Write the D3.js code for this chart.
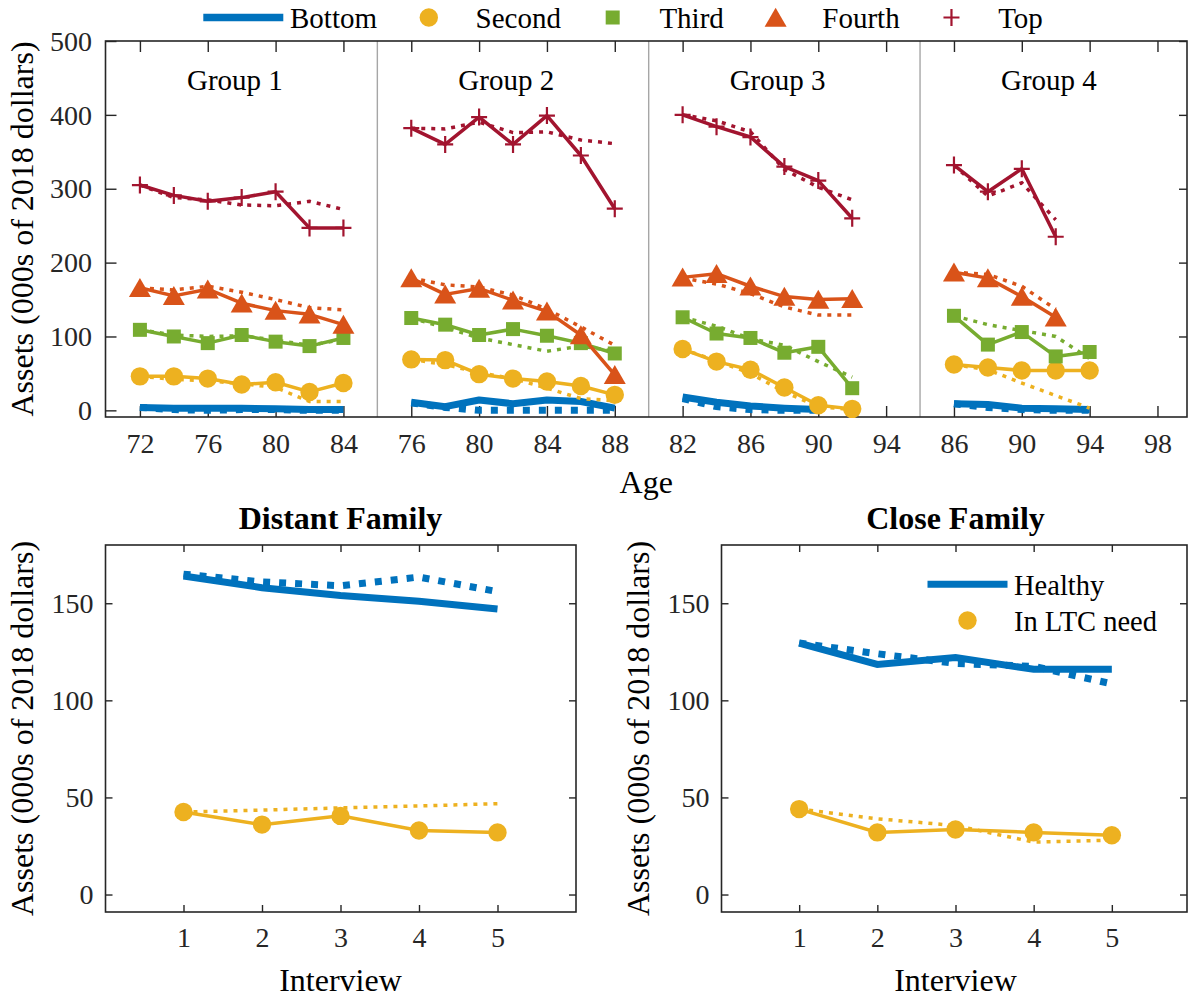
<!DOCTYPE html>
<html>
<head>
<meta charset="utf-8">
<script src="https://cdn.jsdelivr.net/npm/d3@7"></script>
<style>
  html, body { margin: 0; padding: 0; background: #fff; }
  svg { display: block; font-family: "Liberation Serif", "Times New Roman", serif; }
</style>
</head>
<body>
<svg id="chart" width="1188" height="997"></svg>
<script>
// ---------------- data ----------------
const quintiles = ["Bottom", "Second", "Third", "Fourth", "Top"];
const groupNames = ["Group 1", "Group 2", "Group 3", "Group 4"];
const groupStartAge = [72, 76, 82, 86];
const groupTickAges = [[72, 76, 80, 84], [76, 80, 84, 88], [82, 86, 90, 94], [86, 90, 94, 98]];
const ageStep = 2;

// observed paths (solid) and model paths (dotted); one list per group, from the group's first age
const bottomObs = [[4, 3, 3, 3, 2, 1, 1], [11, 5, 14, 9, 14, 12, 3], [18, 11, 6, 3, 1], [9, 8, 3, 2, 1]];
const bottomSim = [[4, 1, 0, 1, 1, 0, 0], [10, 4, 0, 0, 0, 0, 0], [16, 5, 1, 0, 0], [9, 4, 1, 0, 0]];
const secondObs = [[46, 46, 43, 35, 38, 25, 37], [69, 68, 49, 43, 39, 33, 21], [83, 66, 55, 31, 7, 2], [62, 58, 54, 54, 54]];
const secondSim = [[46, 42, 40, 36, 31, 12, 12], [69, 62, 51, 43, 30, 16, 13], [83, 67, 50, 25, 5, 1], [62, 55, 37, 20, 3]];
const thirdObs = [[109, 100, 91, 102, 93, 87, 98], [125, 116, 102, 110, 101, 91, 77], [126, 104, 98, 78, 86, 30], [128, 89, 106, 73, 79]];
const thirdSim = [[109, 102, 100, 101, 95, 88, 96], [125, 112, 98, 89, 80, 87, 80], [126, 114, 97, 88, 66, 45], [128, 116, 108, 100, 70]];
const fourthObs = [[166, 155, 164, 145, 135, 130, 116], [179, 157, 165, 149, 134, 102, 48], [180, 185, 168, 154, 150, 151], [187, 179, 154, 126]];
const fourthSim = [[166, 163, 168, 160, 150, 139, 136], [179, 170, 167, 156, 137, 113, 88], [179, 171, 158, 140, 129, 129], [187, 184, 168, 137]];
const topObs = [[305, 291, 283, 288, 296, 247, 247], [382, 360, 397, 360, 399, 345, 273], [400, 384, 370, 330, 311, 260], [332, 296, 327, 235]];
const topSim = [[305, 288, 285, 278, 277, 283, 272], [382, 381, 390, 376, 377, 366, 361], [400, 392, 377, 326, 302, 285], [332, 290, 308, 258]];

const topYTicks = [0, 100, 200, 300, 400, 500];

// family panels
const interviews = [1, 2, 3, 4, 5];
const distantHealthyObs = [164, 158, 154, 151, 147];
const distantHealthySim = [165, 161, 159, 163.5, 156];
const distantLtcObs = [42.5, 36, 40.5, 33, 32];
const distantLtcSim = [42.5, 43.5, 44.6, 45.6, 46.8];
const closeHealthyObs = [129.5, 118.5, 122, 116, 116];
const closeHealthySim = [129.5, 124, 119, 117.5, 108.5];
const closeLtcObs = [44, 32, 33.5, 32, 30.5];
const closeLtcSim = [44, 39, 35.5, 27, 28];
const familyYTicks = [0, 50, 100, 150];
const familyLegend = ["Healthy", "In LTC need"];

// ---------------- styles ----------------
const color = { Bottom: "#0072BD", Second: "#EDB120", Third: "#77AC30", Fourth: "#D95319", Top: "#A2142F" };
const markerOf = { Bottom: null, Second: "circle", Third: "square", Fourth: "triangle", Top: "plus" };
const obsBySeries = { Bottom: bottomObs, Second: secondObs, Third: thirdObs, Fourth: fourthObs, Top: topObs };
const simBySeries = { Bottom: bottomSim, Second: secondSim, Third: thirdSim, Fourth: fourthSim, Top: topSim };

const AXIS = "#262626";
const TICK_FONT = 28;
const LABEL_FONT = 32;

const svg = d3.select("#chart");

function drawMarker(sel, type, cx, cy, c) {
  if (type === "circle") {
    sel.append("circle").attr("cx", cx).attr("cy", cy).attr("r", 9.2).attr("fill", c);
  } else if (type === "square") {
    sel.append("rect").attr("x", cx - 7).attr("y", cy - 7).attr("width", 14).attr("height", 14).attr("fill", c);
  } else if (type === "triangle") {
    sel.append("path").attr("d", `M${cx},${cy - 9.8}L${cx + 11},${cy + 9.2}L${cx - 11},${cy + 9.2}Z`).attr("fill", c);
  } else if (type === "plus") {
    sel.append("path").attr("d", `M${cx - 8},${cy}H${cx + 8}M${cx},${cy - 8.5}V${cy + 8.5}`)
      .attr("stroke", c).attr("stroke-width", 2.2).attr("fill", "none");
  }
}

function styleAxis(g, fontSize) {
  g.select(".domain").remove();
  g.selectAll(".tick line").attr("stroke", AXIS).attr("stroke-width", 1.4);
  g.selectAll(".tick text").attr("fill", AXIS).attr("font-size", fontSize)
    .attr("font-family", '"Liberation Serif","Times New Roman",serif');
}

// ---------------- top panel: assets by age ----------------
const T = { left: 105.5, right: 1187, top: 41, bottom: 417 };
const groupSpan = 16;
const xTop = d3.scaleLinear().domain([-2, 61.8]).range([106, 1188]);
const yTop = d3.scaleLinear().domain([-9, 500]).range([T.bottom, T.top]);
const posOf = (g, age) => age - groupStartAge[g] + groupSpan * g;

const topG = svg.append("g");

// group separators
topG.selectAll("line.sep").data([1, 2, 3]).join("line")
  .attr("x1", g => xTop(groupSpan * g - 2)).attr("x2", g => xTop(groupSpan * g - 2))
  .attr("y1", T.top).attr("y2", T.bottom)
  .attr("stroke", "#a6a6a6").attr("stroke-width", 1.4);

// axes
const tickPos = [], tickLab = [];
groupTickAges.forEach((ages, g) => ages.forEach(a => { tickPos.push(posOf(g, a)); tickLab.push(String(a)); }));

topG.append("g").attr("transform", `translate(0,${T.bottom})`)
  .call(d3.axisBottom(xTop).tickValues(tickPos).tickFormat((d, i) => tickLab[i]).tickSizeInner(-11).tickSizeOuter(0).tickPadding(16))
  .call(g => styleAxis(g, TICK_FONT));
topG.append("g").attr("transform", `translate(0,${T.top})`)
  .call(d3.axisTop(xTop).tickValues(tickPos).tickFormat("").tickSizeInner(-11).tickSizeOuter(0))
  .call(g => styleAxis(g, TICK_FONT));
topG.append("g").attr("transform", `translate(${T.left},0)`)
  .call(d3.axisLeft(yTop).tickValues(topYTicks).tickSizeInner(-11).tickSizeOuter(0).tickPadding(13.5))
  .call(g => styleAxis(g, TICK_FONT))
  .call(g => g.selectAll(".tick text").attr("dy", "0.33em"));
topG.append("g").attr("transform", `translate(${T.right},0)`)
  .call(d3.axisRight(yTop).tickValues(topYTicks.slice(1)).tickFormat("").tickSizeInner(-8).tickSizeOuter(0))
  .call(g => styleAxis(g, TICK_FONT));

topG.append("rect").attr("x", T.left).attr("y", T.top)
  .attr("width", T.right - T.left).attr("height", T.bottom - T.top)
  .attr("fill", "none").attr("stroke", AXIS).attr("stroke-width", 1.6);

// group titles
topG.selectAll("text.grp").data(groupNames).join("text")
  .attr("x", (d, g) => xTop(groupSpan * g + 5.6)).attr("y", 90)
  .attr("text-anchor", "middle").attr("font-size", 29).attr("fill", "#000")
  .text(d => d);

// series
const lineTop = d3.line().x(d => xTop(d.p)).y(d => yTop(d.v));
const seriesPts = (vals, g) => vals.map((v, i) => ({ p: posOf(g, groupStartAge[g] + ageStep * i), v }));

quintiles.forEach(q => {
  const c = color[q];
  const thick = q === "Bottom";
  const lw = thick ? 7 : 3.5;
  groupNames.forEach((_, g) => {
    const obs = seriesPts(obsBySeries[q][g], g);
    const sim = seriesPts(simBySeries[q][g], g);
    const sg = topG.append("g");
    sg.append("path").attr("d", lineTop(obs)).attr("fill", "none").attr("stroke", c)
      .attr("stroke-width", lw).attr("stroke-linejoin", "round");
    sg.append("path").attr("d", lineTop(sim)).attr("fill", "none").attr("stroke", c)
      .attr("stroke-width", lw).attr("stroke-dasharray", thick ? "7,9" : "4,6");
    if (markerOf[q]) obs.forEach(d => drawMarker(sg, markerOf[q], xTop(d.p), yTop(d.v), c));
  });
});

// y label and x label
svg.append("text").attr("transform", `translate(33,${(T.top + T.bottom) / 2}) rotate(-90)`)
  .attr("text-anchor", "middle").attr("font-size", LABEL_FONT).attr("fill", "#000")
  .text("Assets (000s of 2018 dollars)");
svg.append("text").attr("x", (T.left + T.right) / 2).attr("y", 493)
  .attr("text-anchor", "middle").attr("font-size", LABEL_FONT).attr("fill", "#000").text("Age");

// legend across the top
(function () {
  const lg = svg.append("g");
  const cy = 17.5;
  let tx = 290;
  quintiles.forEach(q => {
    const cx = tx - 46.7;
    if (q === "Bottom") {
      lg.append("line").attr("x1", cx - 40).attr("x2", cx + 40).attr("y1", cy).attr("y2", cy)
        .attr("stroke", color[q]).attr("stroke-width", 7.5);
    } else {
      drawMarker(lg, markerOf[q], cx, cy, color[q]);
    }
    const t = lg.append("text").attr("x", tx).attr("y", cy).attr("dy", "0.37em")
      .attr("font-size", 29).attr("fill", "#000").text(q);
    tx += t.node().getComputedTextLength() + 98.5;
  });
})();

// ---------------- family panels ----------------
function familyPanel(left, right, title, hObs, hSim, lObs, lSim, withLegend) {
  const P = { left, right, top: 545, bottom: 912 };
  const x = d3.scaleLinear().domain([0, 6]).range([left, right]);
  const y = d3.scaleLinear().domain([-9, 180]).range([P.bottom, P.top]);
  const g = svg.append("g");

  g.append("g").attr("transform", `translate(0,${P.bottom})`)
    .call(d3.axisBottom(x).tickValues(interviews).tickFormat(d3.format("d")).tickSizeInner(-7).tickSizeOuter(0).tickPadding(15))
    .call(a => styleAxis(a, TICK_FONT));
  g.append("g").attr("transform", `translate(0,${P.top})`)
    .call(d3.axisTop(x).tickValues(interviews).tickFormat("").tickSizeInner(-7).tickSizeOuter(0))
    .call(a => styleAxis(a, TICK_FONT));
  g.append("g").attr("transform", `translate(${left + 0.5},0)`)
    .call(d3.axisLeft(y).tickValues(familyYTicks).tickSizeInner(-7).tickSizeOuter(0).tickPadding(12))
    .call(a => styleAxis(a, TICK_FONT))
    .call(a => a.selectAll(".tick text").attr("dy", "0.33em"));
  g.append("g").attr("transform", `translate(${Math.min(right, 1187)},0)`)
    .call(d3.axisRight(y).tickValues(familyYTicks).tickFormat("").tickSizeInner(-7).tickSizeOuter(0))
    .call(a => styleAxis(a, TICK_FONT));
  g.append("rect").attr("x", left + 0.5).attr("y", P.top)
    .attr("width", Math.min(right, 1187) - left - 0.5).attr("height", P.bottom - P.top)
    .attr("fill", "none").attr("stroke", AXIS).attr("stroke-width", 1.6);

  const line = d3.line().x((d, i) => x(interviews[i])).y(d => y(d));
  const blue = color.Bottom, gold = color.Second;
  g.append("path").attr("d", line(hObs)).attr("fill", "none").attr("stroke", blue).attr("stroke-width", 7);
  g.append("path").attr("d", line(hSim)).attr("fill", "none").attr("stroke", blue)
    .attr("stroke-width", 7).attr("stroke-dasharray", "7,9");
  g.append("path").attr("d", line(lObs)).attr("fill", "none").attr("stroke", gold).attr("stroke-width", 3.5);
  g.append("path").attr("d", line(lSim)).attr("fill", "none").attr("stroke", gold)
    .attr("stroke-width", 3.5).attr("stroke-dasharray", "4,6");
  lObs.forEach((v, i) => drawMarker(g, "circle", x(interviews[i]), y(v), gold));

  g.append("text").attr("x", (left + right) / 2).attr("y", 529).attr("text-anchor", "middle")
    .attr("font-size", 32).attr("font-weight", "bold").attr("fill", "#000").text(title);
  g.append("text").attr("x", (left + right) / 2).attr("y", 991).attr("text-anchor", "middle")
    .attr("font-size", LABEL_FONT).attr("fill", "#000").text("Interview");
  g.append("text").attr("transform", `translate(${left - 72},${(P.top + P.bottom) / 2}) rotate(-90)`)
    .attr("text-anchor", "middle").attr("font-size", LABEL_FONT).attr("fill", "#000")
    .text("Assets (000s of 2018 dollars)");

  if (withLegend) {
    const icx = 967.5, tx = 1014;
    const rows = [584.3, 620.5];
    g.append("line").attr("x1", icx - 40).attr("x2", icx + 40).attr("y1", rows[0]).attr("y2", rows[0])
      .attr("stroke", blue).attr("stroke-width", 7);
    drawMarker(g, "circle", icx, rows[1], gold);
    familyLegend.forEach((lab, i) => {
      g.append("text").attr("x", tx).attr("y", rows[i]).attr("dy", "0.37em")
        .attr("font-size", 28.5).attr("fill", "#000").text(lab);
    });
  }
}

familyPanel(105, 576, "Distant Family", distantHealthyObs, distantHealthySim, distantLtcObs, distantLtcSim, false);
familyPanel(721, 1190, "Close Family", closeHealthyObs, closeHealthySim, closeLtcObs, closeLtcSim, true);
</script>
</body>
</html>
